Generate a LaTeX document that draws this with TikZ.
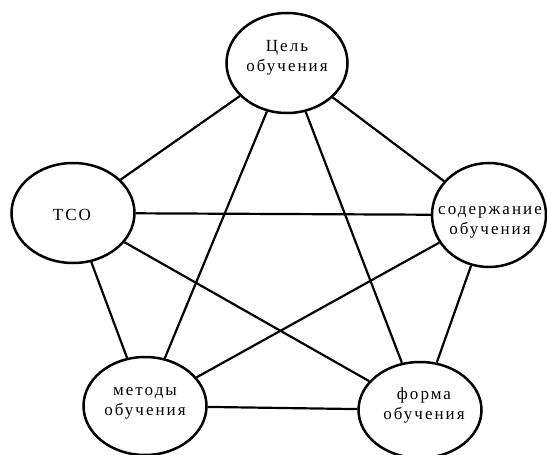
\documentclass[tikz,border=0pt]{standalone}
\usepackage{fontspec}
\setmainfont[LetterSpace=12]{Liberation Serif}
\usetikzlibrary{shapes.geometric}
\begin{document}
\begin{tikzpicture}[x=1pt,y=-1pt,
  ell/.style={draw,ellipse,line width=2.5pt,inner sep=0pt},
  txt/.style={align=center,font=\fontsize{17}{20}\selectfont,inner sep=0pt},
  edge/.style={line width=2.2pt}]
\useasboundingbox (0,0) rectangle (547,455);
\node[ell,minimum width=121pt,minimum height=100pt] (goal) at (287,63) {};
\node[ell,minimum width=123pt,minimum height=100pt] (tso) at (73,213) {};
\node[ell,minimum width=114pt,minimum height=104pt] (cont) at (489,215) {};
\node[ell,minimum width=123pt,minimum height=98pt] (meth) at (145,406) {};
\node[ell,minimum width=123pt,minimum height=96pt] (form) at (420,410) {};
\node[txt] (goalt) at (287,58) {Цель\\обучения};
\node[txt] (tsot) at (72,215) {ТСО};
\node[txt] (contt) at (490,222) {содержание\\обучения};
\node[txt] (metht) at (145,403) {методы\\обучения};
\node[txt] (formt) at (424,405) {форма\\обучения};
\draw[edge] (goal) -- (tso);
\draw[edge] (goal) -- (cont);
\draw[edge] (goal) -- (meth);
\draw[edge] (goal) -- (form);
\draw[edge] (tso) -- (cont);
\draw[edge] (tso) -- (meth);
\draw[edge] (tso) -- (form);
\draw[edge] (cont) -- (meth);
\draw[edge] (cont) -- (form);
\draw[edge] (meth) -- (form);
\end{tikzpicture}
\end{document}
